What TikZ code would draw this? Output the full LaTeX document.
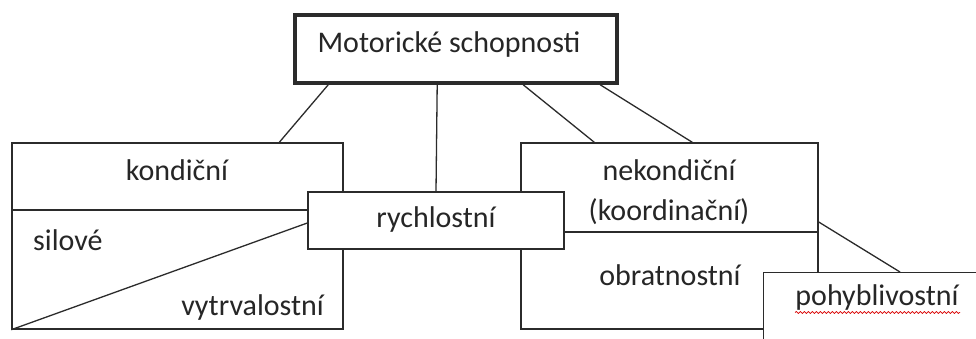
\documentclass[tikz,border=0pt]{standalone}
\usepackage{fontspec}
\setmainfont{Carlito}
\usetikzlibrary{decorations.pathmorphing}
\definecolor{ink}{HTML}{2B2B2B}
\definecolor{txt}{HTML}{262626}
\tikzset{
  box/.style={draw=ink, line width=1.4pt, fill=white, rectangle, inner sep=0pt},
  conn/.style={draw=ink, line width=1.3pt},
  lbl/.style={text=txt, font=\fontsize{30}{32}\selectfont, inner sep=0pt, anchor=base},
}
\begin{document}
\begin{tikzpicture}[x=1pt,y=1pt]
\useasboundingbox (0,0) rectangle (976,338);
\clip (0,0) rectangle (976,338);
\fill[white] (0,0) rectangle (976,338);
% top box
\node[box, line width=3.6pt, minimum width=322pt, minimum height=68pt] (top) at (456,289) {};
\node[lbl] (toptxt) at (449,285) {Motorické schopnosti};
% left box
\node[box, minimum width=331pt, minimum height=186pt] (kond) at (177.5,102) {};
% right box
\node[box, minimum width=297pt, minimum height=186pt] (nekond) at (669.5,102) {};
% connectors from top
\draw[conn] ([xshift=35pt]top.south west) -- ([xshift=268pt]kond.north west);
\draw[conn] ([xshift=230pt]top.south west) -- ([xshift=74pt]nekond.north west);
\draw[conn] ([xshift=307pt]top.south west) -- ([xshift=172pt]nekond.north west);
% left box internals
\draw[conn] (kond.west |- 0,128) -- (kond.east |- 0,128);
\node[lbl] (t1) at (177,158) {kondiční};
\node[lbl, anchor=base west] (t2) at (33,88) {silové};
\node[lbl, anchor=base east] (t3) at (324,23) {vytrvalostní};
% right box internals
\draw[conn] (564,106) -- (nekond.east |- 0,106);
\node[lbl] (t4) at (669,158) {nekondiční};
\node[lbl] (t5) at (669,118) {(koordinační)};
\node[lbl] (t6) at (670,53) {obratnostní};
% rychlostní box
\node[box, minimum width=256pt, minimum height=57pt] (rych) at (436,117.5) {};
\node[lbl] (t7) at (436,111) {rychlostní};
\draw[conn] (kond.south west) -- ([yshift=-2.5pt]rych.west);
\draw[conn] ([xshift=144pt]top.south west) -- (rych.north);
% pohyblivostní
\draw[conn] ([yshift=14pt]nekond.east) -- (900,66);
\node[box, anchor=north west, minimum width=240pt, minimum height=100pt] (pohyb) at (763,66) {};
\node[lbl] (t8) at (877,33) {pohyblivostní};
\draw[red!85!black, line width=0.7pt, decorate, decoration={snake, segment length=4pt, amplitude=1pt}] (795,25.5) -- (960,25.5);
\end{tikzpicture}
\end{document}
